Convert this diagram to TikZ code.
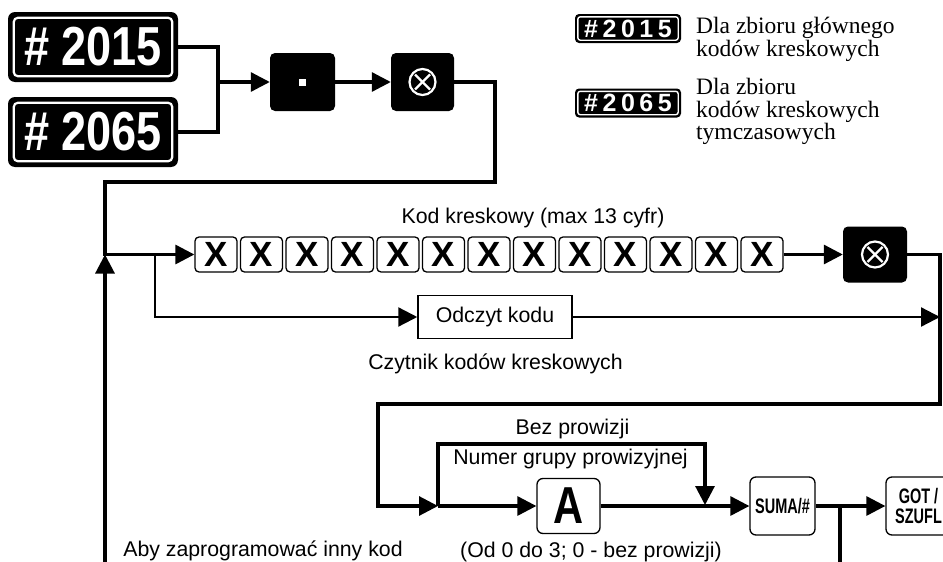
\documentclass[tikz,border=0pt]{standalone}
\usepackage{fontspec}
\usepackage{graphicx}
\setmainfont{Liberation Serif}
\newfontfamily\arial{Liberation Sans}
\usetikzlibrary{arrows.meta}
\newcommand{\condx}[2]{\scalebox{#1}[1]{#2}}
\tikzset{
  ln/.style={line width=3.1pt},
  thinln/.style={line width=2.3pt},
  ar/.style={ln, -{Triangle[length=19pt,width=19pt]}},
  thinar/.style={thinln, -{Triangle[length=19pt,width=19pt]}},
  bigkey/.style={fill=black, rounded corners=7pt, minimum width=170pt, minimum height=70pt, inner sep=0pt, text=white, font=\arial\bfseries\fontsize{55}{55}\selectfont},
  smallkey/.style={fill=black, rounded corners=4pt, minimum width=106pt, minimum height=29pt, inner sep=0pt, text=white, font=\arial\bfseries\fontsize{25}{25}\selectfont},
  blackbox/.style={fill=black, rounded corners=5pt, inner sep=0pt},
  xkey/.style={draw=black, line width=1.3pt, fill=white, rounded corners=4pt, minimum width=42pt, minimum height=35pt, inner sep=0pt, font=\arial\bfseries\fontsize{35}{35}\selectfont},
  wkey/.style={draw=black, line width=1.3pt, fill=white, rounded corners=6pt, inner sep=0pt},
  lbl/.style={font=\arial\fontsize{21.3}{24}\selectfont, inner sep=0pt},
  leg/.style={font=\fontsize{23.5}{24}\selectfont, inner sep=0pt, anchor=base west},
  ring/.style={white, line width=2.2pt, rounded corners=4pt},
  sring/.style={white, line width=1.4pt, rounded corners=2.5pt},
  sym/.style={white, line width=2.2pt},
}
\begin{document}
\begin{tikzpicture}[x=1pt,y=-1pt]
\clip (0,0) rectangle (943,562);
\fill[white] (0,0) rectangle (943,562);

% big keys
\node[bigkey] (k2015) at (93,47) {\condx{0.82}{\# 2015}};
\draw[ring] ([shift={(6,6)}]k2015.north west) rectangle ([shift={(-6,-6)}]k2015.south east);
\node[bigkey] (k2065) at (93,132) {\condx{0.82}{\# 2065}};
\draw[ring] ([shift={(6,6)}]k2065.north west) rectangle ([shift={(-6,-6)}]k2065.south east);

% legend
\node[smallkey] (l2015) at (628,28.5) {\#\kern4.5pt 2\kern4.5pt 0\kern4.5pt 1\kern4.5pt 5};
\draw[sring] ([shift={(3,3)}]l2015.north west) rectangle ([shift={(-3,-3)}]l2015.south east);
\node[smallkey] (l2065) at (628,103) {\#\kern4.5pt 2\kern4.5pt 0\kern4.5pt 6\kern4.5pt 5};
\draw[sring] ([shift={(3,3)}]l2065.north west) rectangle ([shift={(-3,-3)}]l2065.south east);
\node[leg] (t1a) at (696,33) {Dla zbioru głównego};
\node[leg] (t1b) at (696,56) {kodów kreskowych};
\node[leg] (t2a) at (696,94) {Dla zbioru};
\node[leg] (t2b) at (696,117) {kodów kreskowych};
\node[leg] (t2c) at (696,139) {tymczasowych};

% dot and circled-x keys
\node[blackbox, minimum width=65pt, minimum height=58pt] (dot) at (302.5,82) {};
\fill[white] ([shift={(-3.5,-3.5)}]dot.center) rectangle ([shift={(3.5,3.5)}]dot.center);
\node[blackbox, minimum width=63pt, minimum height=58pt] (cx1) at (422.5,82) {};
\draw[sym] (cx1.center) circle (13);
\draw[sym] ([shift={(-7.5,-7.5)}]cx1.center) -- ([shift={(7.5,7.5)}]cx1.center);
\draw[sym] ([shift={(-7.5,7.5)}]cx1.center) -- ([shift={(7.5,-7.5)}]cx1.center);

% junction top-left
\coordinate (j1) at (218,82);
\draw[ln] (k2015.east) -| (j1) |- (k2065.east);
\draw[ar] (j1) -- (dot.west);
\draw[ar] (dot.east) -- (cx1.west);

% X boxes
\foreach \i in {1,...,13} {
  \node[xkey] (x\i) at ({216+(\i-1)*45.5},254.5) {X};
}
\node[lbl, anchor=base] (kodlbl) at (533,223) {Kod kreskowy (max 13 cyfr)};

\node[blackbox, minimum width=64pt, minimum height=56pt] (cx2) at (875,254.5) {};
\draw[sym] (cx2.center) circle (13);
\draw[sym] ([shift={(-7.5,-7.5)}]cx2.center) -- ([shift={(7.5,7.5)}]cx2.center);
\draw[sym] ([shift={(-7.5,7.5)}]cx2.center) -- ([shift={(7.5,-7.5)}]cx2.center);

% main loop
\coordinate (c1) at (495,82);
\coordinate (c2) at (495,182);
\coordinate (c3) at (105,182);
\coordinate (jm) at (105,254.5);
\coordinate (jb) at (155,254.5);
\draw[ar] (cx1.east) -- (c1) -- (c2) -- (c3) -- (jm) -- (x1.west);
\draw[ar] (x13.east) -- (cx2.west);

% barcode reader branch
\node[draw=black, line width=1.5pt, fill=white, minimum width=154pt, minimum height=43pt, inner sep=0pt, font=\arial\fontsize{21.3}{24}\selectfont] (odczyt) at (495,317) {Odczyt kodu};
\coordinate (bb) at (155,317);
\draw[thinar] (jb) -- (bb) -- (odczyt.west);
\coordinate (r1) at (940,254.5);
\coordinate (r2) at (940,404);
\coordinate (r3) at (378,404);
\coordinate (r4) at (378,506);
\coordinate (jA) at (438,506);
\coordinate (rr) at (940,317);
\draw[thinar] (odczyt.east) -- (rr);
\node[lbl, anchor=base] (czyt) at (495.5,369) {Czytnik kodów kreskowych};

\draw[ar] (cx2.east) -- (r1) -- (r2) -- (r3) -- (r4) -- (jA);

% commission part
\node[wkey, minimum width=63pt, minimum height=55pt, font=\arial\bfseries\fontsize{52}{52}\selectfont] (A) at (568.5,506) {\condx{0.8}{A}};
\node[wkey, minimum width=65pt, minimum height=58pt, font=\arial\bfseries\fontsize{21}{21}\selectfont] (suma) at (782.5,506) {\condx{0.69}{SUMA/\#}};
\node[wkey, minimum width=65pt, minimum height=58pt, align=center, font=\arial\bfseries\fontsize{21}{20}\selectfont] (got) at (918.5,506) {\condx{0.69}{GOT /}\\\condx{0.69}{SZUFL}};

\coordinate (p1) at (438,444);
\coordinate (p2) at (705,444);
\coordinate (p3) at (705,505);
\draw[ar] (jA) -- (A.west);
\draw[ar] (jA) -- (p1) -- (p2) -- (p3);
\draw[ar] (A.east) -- (suma.west);
\draw[ar] (suma.east) -- (got.west);
\coordinate (js) at (840,506);
\coordinate (bs) at (840,570);
\draw[ln] (js) -- (bs);
\coordinate (bl) at (105,570);
\draw[ar] (bl) -- (jm);

\node[lbl, anchor=base] (bez) at (572.5,434) {Bez prowizji};
\node[lbl, anchor=base] (numer) at (570.5,464) {Numer grupy prowizyjnej};
\node[lbl, anchor=base] (od) at (591,557) {(Od 0 do 3; 0 - bez prowizji)};
\node[lbl, anchor=base] (aby) at (263,556) {Aby zaprogramować inny kod};
\end{tikzpicture}
\end{document}
